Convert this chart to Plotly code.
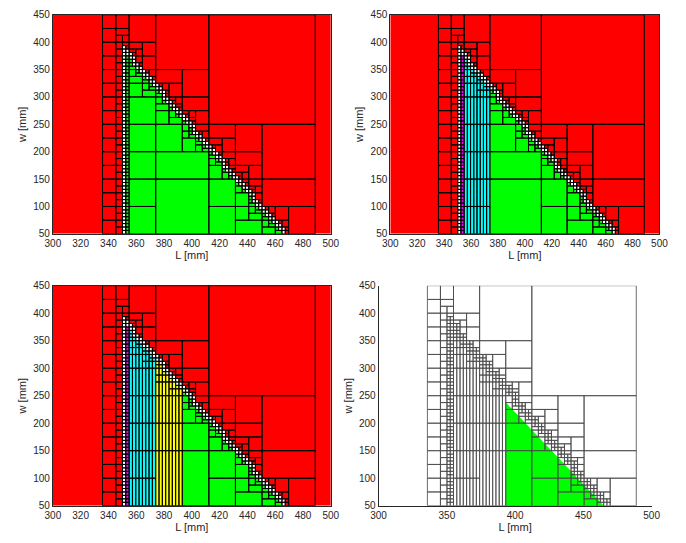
import plotly.graph_objects as go

# ---------------- values ----------------
L_DOMAIN = [335.75, 488.75]     # L extent of the subdivided search box [mm]
W_DOMAIN = [50.0, 450.0]        # w extent of the subdivided search box [mm]
L_LEFT_EDGE = 351.5             # vertical boundary of the feasible set [mm]
EDGE_TOP = [351.5, 386.0]       # upper end of the diagonal boundary (L, w)
EDGE_BOTTOM = [467.0, 50.0]     # lower end of the diagonal boundary (L, w)
MAX_DEPTH = 12                  # number of bisections of the smallest boxes
MAGENTA_L = [352.484, 354.875]  # L band of the marked boundary column
CYAN_L = [354.875, 374.0]       # L band of the first refined subset
YELLOW_L = [374.0, 393.125]     # L band of the second refined subset
FINAL_L = [393.125, 465.0]      # L extent of the remaining region (last panel)
FINAL_W_TOP = 238.0             # w of the remaining region at its left side
AXIS_L = [300, 500]
AXIS_W = [50, 450]
X_TICKS_FINE = list(range(300, 501, 20))
X_TICKS_COARSE = list(range(300, 501, 50))
Y_TICKS = list(range(50, 451, 50))

RED, GREEN, WHITE = "#ff0000", "#00ff00", "#ffffff"
CYAN, YELLOW, MAGENTA = "#00ffff", "#ffff00", "#ff00ff"

# ---------------- subdivision ----------------
def line_w(L):
    (l1, w1), (l2, w2) = EDGE_TOP, EDGE_BOTTOM
    return w1 + (L - l1) * (w2 - w1) / (l2 - l1)

def classify(l0, l1, w0, w1):
    if l1 <= L_LEFT_EDGE or w0 >= line_w(l0):
        return "out"
    if l0 >= L_LEFT_EDGE and w1 <= line_w(l1):
        return "in"
    return "mixed"

leaves = []

def subdivide(l0, l1, w0, w1, depth):
    c = classify(l0, l1, w0, w1)
    if c != "mixed":
        leaves.append((l0, l1, w0, w1, c))
        return
    if depth >= MAX_DEPTH:
        leaves.append((l0, l1, w0, w1, "bnd"))
        return
    if depth % 2 == 0:
        wm = 0.5 * (w0 + w1)
        subdivide(l0, l1, w0, wm, depth + 1)
        subdivide(l0, l1, wm, w1, depth + 1)
    else:
        lm = 0.5 * (l0 + l1)
        subdivide(l0, lm, w0, w1, depth + 1)
        subdivide(lm, l1, w0, w1, depth + 1)

subdivide(L_DOMAIN[0], L_DOMAIN[1], W_DOMAIN[0], W_DOMAIN[1], 0)
CELL_L = (L_DOMAIN[1] - L_DOMAIN[0]) / 2 ** (MAX_DEPTH // 2)
EPS = 1e-6

def strips(l0, l1, w0, w1, color):
    n = max(1, int(round((l1 - l0) / CELL_L)))
    d = (l1 - l0) / n
    return [(l0 + i * d, l0 + (i + 1) * d, w0, w1, color) for i in range(n)]

def split_feasible(lf, bands, rest_color):
    l0, l1, w0, w1 = lf[:4]
    cuts = {l0, l1}
    for rng, _, _ in bands:
        for v in rng:
            if l0 + EPS < v < l1 - EPS:
                cuts.add(v)
    cuts = sorted(cuts)
    out = []
    for a, b in zip(cuts[:-1], cuts[1:]):
        mid = 0.5 * (a + b)
        for rng, col, mk in bands:
            if rng[0] - EPS <= mid <= rng[1] + EPS:
                out += strips(a, b, w0, w1, col) if mk else [(a, b, w0, w1, col)]
                break
        else:
            out.append((a, b, w0, w1, rest_color))
    return out

def panel_cells(bands, out_color, bnd_color, rest_color):
    cells = []
    for lf in leaves:
        kind = lf[4]
        if kind == "out":
            cells.append(lf[:4] + (out_color,))
        elif kind == "bnd":
            cells.append(lf[:4] + (bnd_color,))
        else:
            cells += split_feasible(lf, bands, rest_color)
    return cells

def rect_path(cells):
    xs, ys = [], []
    for l0, l1, w0, w1, _ in cells:
        xs += [l0, l1, l1, l0, l0, None]
        ys += [w0, w0, w1, w1, w0, None]
    return xs, ys

fig = go.Figure()

def add_fill(xs, ys, col, xa, ya):
    fig.add_trace(go.Scatter(x=xs, y=ys, fill="toself", fillcolor=col, mode="lines",
                             line=dict(width=0, color=col), xaxis=xa, yaxis=ya,
                             hoverinfo="skip", showlegend=False))

def add_panel(cells, xa, ya, background, line_color, line_width, extra_fill=None):
    if background:
        add_fill([AXIS_L[0], AXIS_L[1], AXIS_L[1], AXIS_L[0], AXIS_L[0]],
                 [AXIS_W[0], AXIS_W[0], AXIS_W[1], AXIS_W[1], AXIS_W[0]], background, xa, ya)
    for col in [RED, GREEN, WHITE, CYAN, YELLOW, MAGENTA]:
        sub = [c for c in cells if c[4] == col]
        if sub:
            xs, ys = rect_path(sub)
            add_fill(xs, ys, col, xa, ya)
    if extra_fill:
        add_fill(extra_fill[0], extra_fill[1], extra_fill[2], xa, ya)
    xs, ys = rect_path(cells)
    fig.add_trace(go.Scatter(x=xs, y=ys, mode="lines",
                             line=dict(width=line_width, color=line_color),
                             xaxis=xa, yaxis=ya, hoverinfo="skip", showlegend=False))

stage1 = panel_cells([], RED, WHITE, GREEN)
stage2 = panel_cells([(MAGENTA_L, MAGENTA, False), (CYAN_L, CYAN, True)], RED, WHITE, GREEN)
stage3 = panel_cells([(MAGENTA_L, MAGENTA, False), (CYAN_L, CYAN, True),
                      (YELLOW_L, YELLOW, True)], RED, WHITE, GREEN)
stage4 = panel_cells([(MAGENTA_L, None, False), (CYAN_L, None, True),
                      (YELLOW_L, None, True)], None, None, None)
final_region = ([FINAL_L[0], FINAL_L[0], FINAL_L[1], FINAL_L[0]],
                [W_DOMAIN[0], FINAL_W_TOP, W_DOMAIN[0], W_DOMAIN[0]], GREEN)

add_panel(stage1, "x", "y", RED, "#000000", 1)
add_panel(stage2, "x2", "y2", RED, "#000000", 1)
add_panel(stage3, "x3", "y3", RED, "#000000", 1)
add_panel(stage4, "x4", "y4", None, "#474747", 0.8, final_region)

W, H = 686, 543
def px_x(a, b):
    return [a / W, b / W]
def px_y(top, bottom):
    return [1 - bottom / H, 1 - top / H]

FONT = dict(family="Liberation Sans, Arial, sans-serif", size=10, color="#262626")
TFONT = dict(family="Liberation Sans, Arial, sans-serif", size=11, color="#262626")

def xaxis(dom, anchor, ticks, mirror):
    return dict(domain=dom, anchor=anchor, range=AXIS_L, tickvals=ticks,
                showgrid=False, zeroline=False, showline=True, linecolor="#262626",
                linewidth=1, mirror=mirror, ticks="", tickfont=FONT,
                title=dict(text="L [mm]", font=TFONT, standoff=2))

def yaxis(dom, anchor, mirror):
    return dict(domain=dom, anchor=anchor, range=AXIS_W, tickvals=Y_TICKS,
                showgrid=False, zeroline=False, showline=True, linecolor="#262626",
                linewidth=1, mirror=mirror, ticks="", tickfont=FONT,
                title=dict(text="w [mm]", font=TFONT, standoff=4))

fig.update_layout(
    width=W, height=H, margin=dict(l=0, r=0, t=0, b=0),
    paper_bgcolor="white", plot_bgcolor="white", showlegend=False,
    xaxis=xaxis(px_x(46, 331), "y", X_TICKS_FINE, True),
    yaxis=yaxis(px_y(9, 233), "x", True),
    xaxis2=xaxis(px_x(392, 668), "y2", X_TICKS_FINE, True),
    yaxis2=yaxis(px_y(9, 233), "x2", True),
    xaxis3=xaxis(px_x(46, 331), "y3", X_TICKS_FINE, True),
    yaxis3=yaxis(px_y(286, 511), "x3", True),
    xaxis4=xaxis(px_x(380, 660), "y4", X_TICKS_COARSE, False),
    yaxis4=yaxis(px_y(286, 511), "x4", False),
)

fig.write_html("out.html")
